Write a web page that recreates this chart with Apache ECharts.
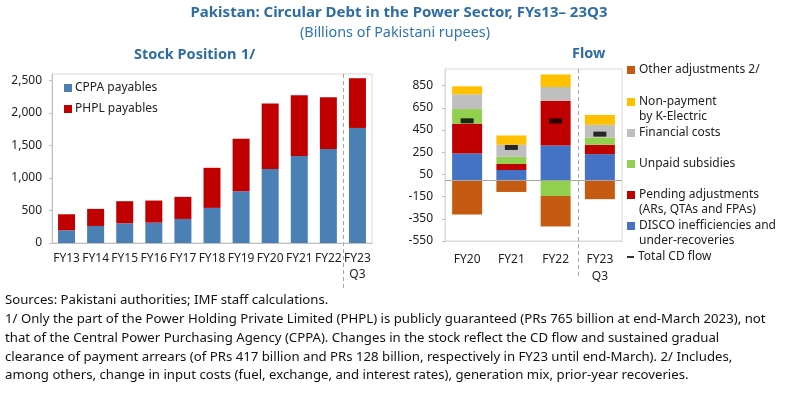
<!DOCTYPE html>
<html><head><meta charset="utf-8">
<script src="https://cdn.jsdelivr.net/npm/echarts@6/dist/echarts.min.js"></script>
<style>html,body{margin:0;padding:0;background:#fff}#c{width:798px;height:395px}</style>
</head><body><div id="c"></div>
<script>
// ---- Stock position data (billions PRs) ----
const stockCats = ['FY13','FY14','FY15','FY16','FY17','FY18','FY19','FY20','FY21','FY22','FY23\nQ3'];
const cppa = [195, 262, 303, 314, 370, 540, 797, 1137, 1337, 1445, 1770];
const phpl = [247, 263, 340, 339, 340, 617, 808, 1008, 937, 798, 765];
const stockTicks = [0, 500, 1000, 1500, 2000, 2500];

// ---- Flow data ----
const flowCats = ['FY20','FY21','FY22','FY23\nQ3'];
const disco = [239, 90, 311, 233];
const pending = [269, 54, 401, 84];
const unpaid = [132, 65, -144, 66];
const financial = [132, 108, 126, 114];
const kelectric = [72, 84, 113, 89];
const otherAdj = [-311, -108, -275, -173];
const totalCD = [533, 293, 532, 413];
const flowTicks = [-550, -350, -150, 50, 250, 450, 650, 850];

const FONT = '"Noto Sans", "Open Sans", sans-serif';
const TITLE_BLUE = '#2E6DA4';
const frame = {show: true, borderColor: '#D9D9D9', borderWidth: 1};

const chart = echarts.init(document.getElementById('c'), null, {renderer: 'canvas'});

const lbl = {fontFamily: FONT, fontSize: 12, color: '#222'};

const option = {
  animation: false,
  textStyle: {fontFamily: FONT},
  title: [
    {text: 'Pakistan: Circular Debt in the Power Sector, FYs13\u2013 23Q3', left: 'center', top: 0,
     textStyle: {fontFamily: FONT, fontSize: 15, fontWeight: 'bold', color: TITLE_BLUE}},
    {text: '(Billions of Pakistani rupees)', left: 295, top: 21,
     textStyle: {fontFamily: FONT, fontSize: 14.4, fontWeight: 'normal', color: '#2E75B6'}},
    {text: '{b|Stock Position} {n|1/}', left: 129, top: 41,
     textStyle: {rich: {b: {fontFamily: FONT, fontSize: 14.5, fontWeight: 'bold', color: TITLE_BLUE},
                        n: {fontFamily: FONT, fontSize: 14.5, color: TITLE_BLUE}}}},
    {text: 'Flow', left: 567, top: 41,
     textStyle: {fontFamily: FONT, fontSize: 14.5, fontWeight: 'bold', color: TITLE_BLUE}}
  ],
  grid: [
    Object.assign({left: 52, right: 426, top: 74, bottom: 152}, frame),
    Object.assign({left: 445, right: 176, top: 69, bottom: 154}, frame)
  ],
  xAxis: [
    {type: 'category', gridIndex: 0, data: stockCats,
     axisLine: {lineStyle: {color: '#BFBFBF'}}, axisTick: {show: false},
     axisLabel: Object.assign({margin: 8, interval: 0, lineHeight: 16}, lbl)},
    {type: 'category', gridIndex: 1, data: flowCats,
     axisLine: {onZero: false, lineStyle: {color: '#D9D9D9'}}, axisTick: {show: false},
     axisLabel: Object.assign({margin: 10, interval: 0, lineHeight: 17}, lbl)}
  ],
  yAxis: [
    {type: 'value', gridIndex: 0, min: stockTicks[0], max: 2600, interval: 500,
     splitLine: {show: false}, axisLine: {show: true, lineStyle: {color: '#BFBFBF'}},
     axisTick: {show: true, length: 3, lineStyle: {color: '#BFBFBF'}},
     axisLabel: Object.assign({margin: 10, showMaxLabel: false,
       formatter: v => stockTicks.includes(v) ? v.toLocaleString('en-US') : ''}, lbl)},
    {type: 'value', gridIndex: 1, min: flowTicks[0], max: 1000, interval: 200,
     splitLine: {show: false}, axisLine: {show: true, lineStyle: {color: '#D9D9D9'}},
     axisTick: {show: true, length: 3, lineStyle: {color: '#BFBFBF'}},
     axisLabel: Object.assign({margin: 12, showMaxLabel: false,
       formatter: v => flowTicks.includes(v) ? String(v) : ''}, lbl)}
  ],
  legend: [
    {data: ['CPPA payables', 'PHPL payables'], orient: 'vertical', left: 64, top: 81,
     itemWidth: 8, itemHeight: 8, itemGap: 7, icon: 'rect', padding: 0,
     textStyle: {fontFamily: FONT, fontSize: 12, color: '#222', lineHeight: 14, padding: [0, 0, 0, -2]}}
  ],
  series: [
    {name: 'CPPA payables', type: 'bar', xAxisIndex: 0, yAxisIndex: 0, stack: 's', data: cppa,
     barWidth: 17, itemStyle: {color: '#4A80B4'}},
    {name: 'PHPL payables', type: 'bar', xAxisIndex: 0, yAxisIndex: 0, stack: 's', data: phpl,
     barWidth: 17, itemStyle: {color: '#C00000'}},

    {name: 'DISCO inefficiencies and', type: 'bar', xAxisIndex: 1, yAxisIndex: 1, stack: 'f', data: disco,
     barWidth: 30, itemStyle: {color: '#4472C4'},
     markLine: {silent: true, symbol: 'none', label: {show: false},
       lineStyle: {color: '#A6A6A6', type: 'solid', width: 1}, data: [{yAxis: 0}]}},
    {name: 'Pending adjustments', type: 'bar', xAxisIndex: 1, yAxisIndex: 1, stack: 'f', data: pending,
     barWidth: 30, itemStyle: {color: '#C00000'}},
    {name: 'Unpaid subsidies', type: 'bar', xAxisIndex: 1, yAxisIndex: 1, stack: 'f', data: unpaid,
     barWidth: 30, itemStyle: {color: '#92D050'}},
    {name: 'Financial costs', type: 'bar', xAxisIndex: 1, yAxisIndex: 1, stack: 'f', data: financial,
     barWidth: 30, itemStyle: {color: '#BFBFBF'}},
    {name: 'Non-payment', type: 'bar', xAxisIndex: 1, yAxisIndex: 1, stack: 'f', data: kelectric,
     barWidth: 30, itemStyle: {color: '#FFC000'}},
    {name: 'Other adjustments 2/', type: 'bar', xAxisIndex: 1, yAxisIndex: 1, stack: 'f', data: otherAdj,
     barWidth: 30, itemStyle: {color: '#C55A11'}},
    {name: 'Total CD flow', type: 'scatter', xAxisIndex: 1, yAxisIndex: 1, data: totalCD,
     symbol: 'rect', symbolSize: [13, 5], itemStyle: {color: '#000'}, z: 5}
  ]
};

// right-hand legend entries (one component each, positioned like the original)
const rl = [
  ['Other adjustments 2/', 70],
  ['Non-payment', 102],
  ['Financial costs', 133],
  ['Unpaid subsidies', 164],
  ['Pending adjustments', 195],
  ['DISCO inefficiencies and', 226],
  ['Total CD flow', 257]
];
rl.forEach(([n, cy]) => {
  const isTot = n === 'Total CD flow';
  option.legend.push({data: [{name: n, icon: 'rect'}], left: 627, top: cy - 7, padding: 0,
    itemWidth: isTot ? 7 : 8, itemHeight: isTot ? 2 : 8, itemGap: 0,
    textStyle: {fontFamily: FONT, fontSize: 12, color: '#222', lineHeight: 14, padding: [0, 0, 0, -1]}});
});

chart.setOption(option);

// dashed separators between FY22 and FY23Q3, placed through the axes
const xL = (chart.convertToPixel({xAxisIndex: 0}, 'FY22') + chart.convertToPixel({xAxisIndex: 0}, 'FY23\nQ3')) / 2;
const xR = (chart.convertToPixel({xAxisIndex: 1}, 'FY22') + chart.convertToPixel({xAxisIndex: 1}, 'FY23\nQ3')) / 2;
const dash = {stroke: '#A6A6A6', lineWidth: 1, lineDash: [4, 3]};
const foot = [
  'Sources: Pakistani authorities; IMF staff calculations.',
  '1/ Only the part of the Power Holding Private Limited (PHPL) is publicly guaranteed (PRs 765 billion at end-March 2023), not',
  'that of the Central Power Purchasing Agency (CPPA). Changes in the stock reflect the CD flow and sustained gradual',
  'clearance of payment arrears (of PRs 417 billion and PRs 128 billion, respectively in FY23 until end-March). 2/ Includes,',
  'among others, change in input costs (fuel, exchange, and interest rates), generation mix, prior-year recoveries.'
];
const g = [
  {type: 'line', shape: {x1: Math.round(xL) + 0.5, y1: 74, x2: Math.round(xL) + 0.5, y2: 290}, style: dash, silent: true},
  {type: 'line', shape: {x1: Math.round(xR) + 0.5, y1: 69, x2: Math.round(xR) + 0.5, y2: 279}, style: dash, silent: true},
  {type: 'text', left: 639, top: 111, style: {text: 'by K-Electric', fontFamily: FONT, fontSize: 12, fill: '#222'}},
  {type: 'text', left: 639, top: 204, style: {text: '(ARs, QTAs and FPAs)', fontFamily: FONT, fontSize: 12, fill: '#222'}},
  {type: 'text', left: 639, top: 235, style: {text: 'under-recoveries', fontFamily: FONT, fontSize: 12, fill: '#222'}},
  {type: 'text', left: 5, top: 291, style: {text: foot.join('\n'), fontFamily: FONT, fontSize: 13.2, lineHeight: 18.8, fill: '#111'}}
];
chart.setOption({graphic: g});
</script></body></html>
